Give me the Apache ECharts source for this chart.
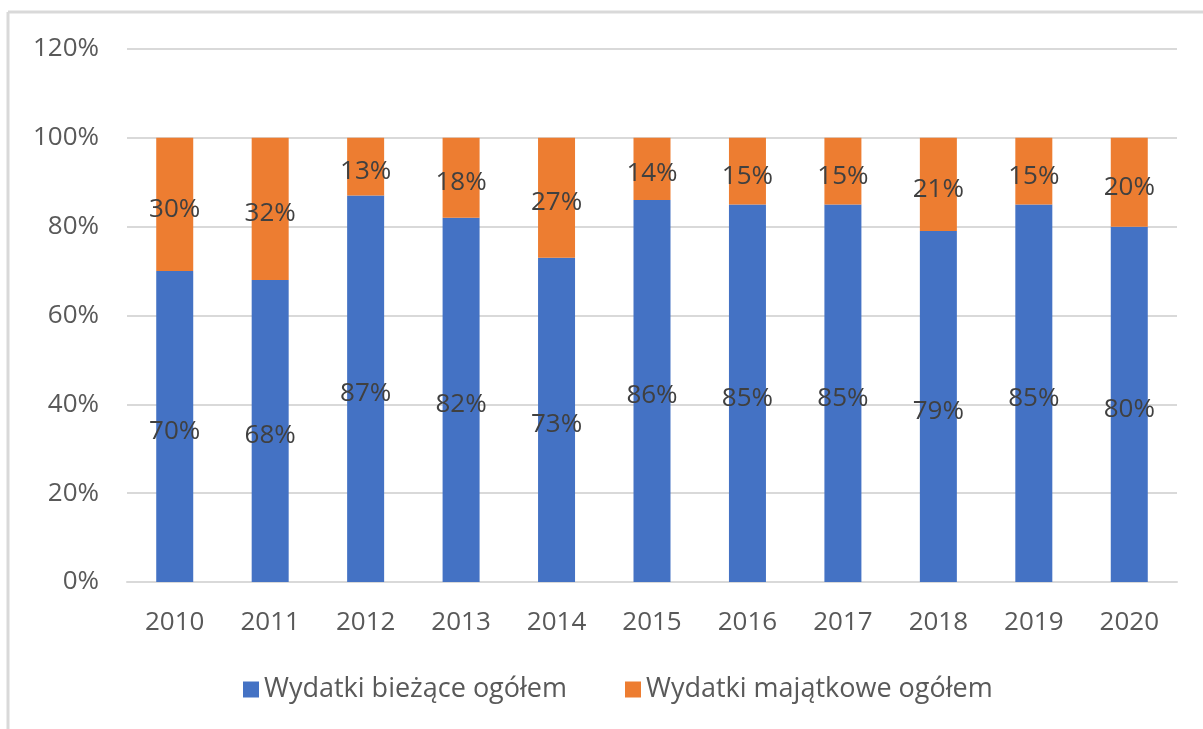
<!DOCTYPE html>
<html>
<head>
<meta charset="utf-8">
<script src="https://cdn.jsdelivr.net/npm/echarts@6/dist/echarts.min.js"></script>
<style>
  html, body { margin: 0; padding: 0; background: #fff; }
  #chart { width: 1203px; height: 729px; }
</style>
</head>
<body>
<div id="chart"></div>
<script>
// data
var years = ['2010', '2011', '2012', '2013', '2014', '2015', '2016', '2017', '2018', '2019', '2020'];
var biezace = [70, 68, 87, 82, 73, 86, 85, 85, 79, 85, 80];
var majatkowe = [30, 32, 13, 18, 27, 14, 15, 15, 21, 15, 20];
var yTicks = [0, 20, 40, 60, 80, 100, 120];

var font = 'Open Sans';
var gridColor = '#d9d9d9';

var chart = echarts.init(document.getElementById('chart'));

var labelStyle = {
  show: true,
  position: 'inside',
  offset: [0, 5],
  color: '#404040',
  fontFamily: font,
  fontSize: 26,
  formatter: '{c}%'
};

option = {
  backgroundColor: '#fff',
  animation: false,
  // frame of the original chart box (only top and left edges are visible)
  graphic: [
    { type: 'line', shape: { x1: 8, y1: 12, x2: 1203, y2: 12 }, style: { stroke: gridColor, lineWidth: 3 } },
    { type: 'line', shape: { x1: 8, y1: 12, x2: 8, y2: 729 }, style: { stroke: gridColor, lineWidth: 3 } }
  ],
  grid: {
    left: 127,
    right: 26,
    top: 49,
    bottom: 147
  },
  legend: {
    data: ['Wydatki bieżące ogółem', 'Wydatki majątkowe ogółem'],
    left: 238,
    top: 671,
    icon: 'rect',
    itemWidth: 16,
    itemHeight: 16,
    itemGap: 58,
    textStyle: { color: '#595959', fontFamily: font, fontSize: 27 }
  },
  xAxis: {
    type: 'category',
    data: years,
    axisTick: { show: false },
    axisLine: { lineStyle: { color: gridColor, width: 2 } },
    axisLabel: { color: '#595959', fontFamily: font, fontSize: 26, margin: 28 }
  },
  yAxis: {
    type: 'value',
    min: yTicks[0],
    max: yTicks[yTicks.length - 1],
    interval: 20,
    axisLine: { show: false },
    axisTick: { show: false },
    splitLine: { lineStyle: { color: gridColor, width: 2 } },
    axisLabel: { color: '#595959', fontFamily: font, fontSize: 26, margin: 28, formatter: '{value}%' }
  },
  series: [
    {
      name: 'Wydatki bieżące ogółem',
      type: 'bar',
      stack: 'total',
      barWidth: 37,
      itemStyle: { color: '#4472c4' },
      label: labelStyle,
      data: biezace
    },
    {
      name: 'Wydatki majątkowe ogółem',
      type: 'bar',
      stack: 'total',
      barWidth: 37,
      itemStyle: { color: '#ed7d31' },
      label: labelStyle,
      data: majatkowe
    }
  ]
};
chart.setOption(option);
</script>
</body>
</html>
